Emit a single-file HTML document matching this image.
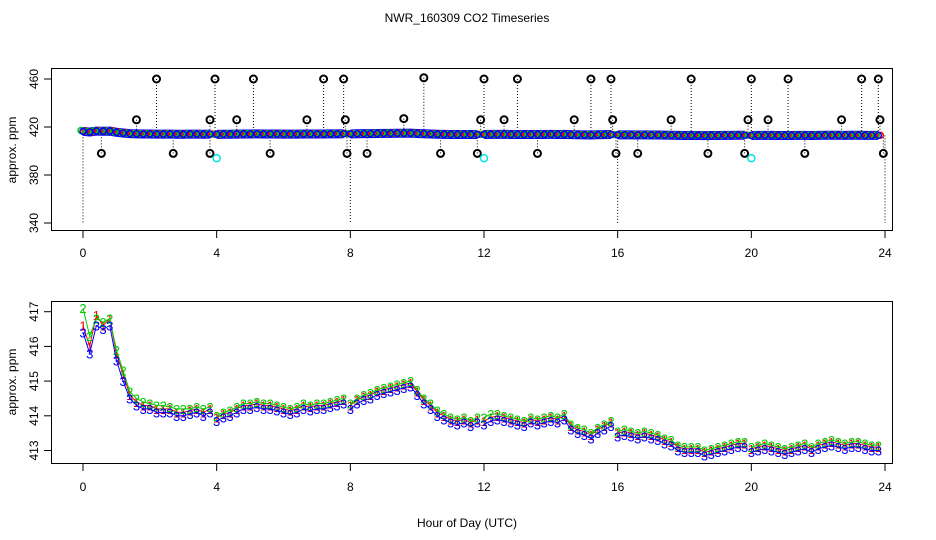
<!DOCTYPE html>
<html><head><meta charset="utf-8"><style>
body{margin:0;background:#fff;}
svg{display:block;font-family:"Liberation Sans",sans-serif;}
</style></head><body>
<svg id="c" width="936" height="540" viewBox="0 0 936 540" xmlns="http://www.w3.org/2000/svg">
<text x="467" y="22" font-size="12" text-anchor="middle">NWR_160309  CO2 Timeseries</text>
<text x="467" y="527" font-size="12" text-anchor="middle">Hour of Day (UTC)</text>
<rect x="51.5" y="68.5" width="841" height="162" fill="none" stroke="#000"/>
<rect x="51.5" y="301.5" width="841" height="162" fill="none" stroke="#000"/>
<text transform="translate(16,150) rotate(-90)" font-size="12" text-anchor="middle">approx. ppm</text>
<text transform="translate(16,382) rotate(-90)" font-size="12" text-anchor="middle">approx. ppm</text>
<g id="g"></g>
</svg>
<script>
const hourTicks=[0,4,8,12,16,20,24];
const topYTicks=[340,380,420,460];
const botYTicks=[413,414,415,416,417];
const hours=[0,0.2,0.4,0.6,0.8,1,1.2,1.4,1.6,1.8,2,2.2,2.4,2.6,2.8,3,3.2,3.4,3.6,3.8,4,4.2,4.4,4.6,4.8,5,5.2,5.4,5.6,5.8,6,6.2,6.4,6.6,6.8,7,7.2,7.4,7.6,7.8,8,8.2,8.4,8.6,8.8,9,9.2,9.4,9.6,9.8,10,10.2,10.4,10.6,10.8,11,11.2,11.4,11.6,11.8,12,12.2,12.4,12.6,12.8,13,13.2,13.4,13.6,13.8,14,14.2,14.4,14.6,14.8,15,15.2,15.4,15.6,15.8,16,16.2,16.4,16.6,16.8,17,17.2,17.4,17.6,17.8,18,18.2,18.4,18.6,18.8,19,19.2,19.4,19.6,19.8,20,20.2,20.4,20.6,20.8,21,21.2,21.4,21.6,21.8,22,22.2,22.4,22.6,22.8,23,23.2,23.4,23.6,23.8];
const blue=[416.4,415.8,416.6,416.5,416.6,415.6,415.0,414.5,414.3,414.2,414.2,414.1,414.1,414.1,414.0,414.0,414.05,414.1,414.0,414.1,
413.85,413.95,414.0,414.1,414.2,414.2,414.25,414.2,414.2,414.15,414.1,414.05,414.1,414.2,414.15,414.2,414.2,414.25,414.3,414.35,
414.2,414.35,414.45,414.5,414.6,414.65,414.7,414.75,414.8,414.85,414.6,414.35,414.2,414.0,413.9,413.8,413.75,413.8,413.7,413.8,
413.75,413.85,413.9,413.85,413.8,413.75,413.7,413.8,413.75,413.8,413.85,413.8,413.9,413.6,413.5,413.45,413.35,413.5,413.6,413.7,
413.4,413.45,413.4,413.35,413.4,413.35,413.3,413.2,413.15,413.0,412.95,412.95,412.95,412.85,412.9,412.95,413.0,413.05,413.1,413.1,
412.95,413.0,413.05,413.0,412.95,412.9,412.95,413.0,413.05,412.95,413.05,413.1,413.15,413.1,413.05,413.1,413.1,413.05,413.0,413.0];
const red=[416.6,416.0,416.9,416.6,416.8,415.8,415.2,414.6,414.4,414.3,414.3,414.2,414.2,414.2,414.1,414.1,414.15,414.2,414.1,414.2,
413.95,414.05,414.1,414.2,414.3,414.3,414.35,414.3,414.3,414.25,414.2,414.15,414.2,414.3,414.25,414.3,414.3,414.35,414.4,414.45,
414.3,414.45,414.55,414.6,414.7,414.75,414.8,414.85,414.9,414.95,414.7,414.45,414.3,414.1,414.0,413.9,413.85,413.9,413.8,413.9,
413.85,413.95,414.0,413.95,413.9,413.85,413.8,413.9,413.85,413.9,413.95,413.9,414.0,413.7,413.6,413.55,413.45,413.6,413.7,413.8,
413.5,413.55,413.5,413.45,413.5,413.45,413.4,413.3,413.25,413.1,413.05,413.05,413.05,412.95,413.0,413.05,413.1,413.15,413.2,413.2,
413.05,413.1,413.15,413.1,413.05,413.0,413.05,413.1,413.15,413.05,413.15,413.2,413.25,413.2,413.15,413.2,413.2,413.15,413.1,413.1];
const green=[417.1,416.3,416.8,416.7,416.8,415.9,415.3,414.7,414.5,414.4,414.35,414.3,414.3,414.25,414.2,414.2,414.2,414.25,414.2,414.25,
414.0,414.1,414.15,414.25,414.35,414.35,414.4,414.35,414.35,414.3,414.25,414.2,414.25,414.35,414.3,414.35,414.35,414.4,414.45,414.5,
414.35,414.5,414.6,414.65,414.75,414.8,414.85,414.9,414.95,415.0,414.75,414.5,414.35,414.15,414.05,413.95,413.9,413.95,413.85,413.95,
413.95,414.05,414.05,414.0,413.95,413.9,413.85,413.95,413.9,413.95,414.0,413.95,414.05,413.75,413.65,413.6,413.5,413.65,413.75,413.85,
413.55,413.6,413.55,413.5,413.55,413.5,413.45,413.35,413.3,413.15,413.1,413.1,413.1,413.0,413.05,413.1,413.15,413.2,413.25,413.25,
413.1,413.15,413.2,413.15,413.1,413.05,413.1,413.15,413.2,413.1,413.2,413.25,413.3,413.25,413.2,413.25,413.25,413.2,413.15,413.15];
const outHours=[2.2,1.6,0.55,2.7,3.8,3.8,3.95,4.6,5.1,5.6,6.7,7.2,7.8,7.85,7.9,8.5,9.6,10.2,10.7,11.8,11.9,12.0,12.6,13.0,13.6,14.7,15.2,15.8,15.85,15.95,16.6,17.6,18.2,18.7,19.8,19.9,20.0,20.5,21.1,21.6,22.7,23.3,23.8,23.85,23.95];
const outVals=[460,426,398,398,426,398,460,426,460,398,426,460,460,426,398,398,427,461,398,398,426,460,426,460,398,426,460,460,426,398,398,426,460,398,398,426,460,426,460,398,426,460,460,426,398];
const cyanHours=[4.0,12.0,20.0];
const cyanVals=[394,394,394];
const dropHours=[0,8,16,24];

const NS="http://www.w3.org/2000/svg";
const G=document.getElementById('g');
const X=h=>83+h*(885-83)/24;
const YT=v=>223-(v-340)*1.2;
const YB=v=>450.5-(v-413)*34.7;
function el(t,a){const e=document.createElementNS(NS,t);for(const k in a)e.setAttribute(k,a[k]);G.appendChild(e);return e;}
hourTicks.forEach(h=>{
 [[231,253],[464,487]].forEach(([yb,yl])=>{
  const t=el('line',{x1:X(h),x2:X(h),y1:yb,y2:yb+7,stroke:'#000'});
  
  
  const l=el('text',{x:X(h),y:yl+4,'font-size':12,'text-anchor':'middle'});l.textContent=h;
  
  
 });
});
topYTicks.forEach(v=>{
 const t=el('line',{x1:44,x2:51,y1:YT(v),y2:YT(v),stroke:'#000'});
 
 
 const l=el('text',{transform:`translate(38,${YT(v)}) rotate(-90)`,'font-size':12,'text-anchor':'middle'});l.textContent=v;
 
 
});
botYTicks.forEach(v=>{
 const t=el('line',{x1:44,x2:51,y1:YB(v),y2:YB(v),stroke:'#000'});
 
 
 const l=el('text',{transform:`translate(38,${YB(v)}) rotate(-90)`,'font-size':12,'text-anchor':'middle'});l.textContent=v;
 
 
});
dropHours.forEach(h=>{
 const i=Math.min(hours.length-1,Math.round(h/0.2));
 const d=el('line',{x1:X(h),x2:X(h),y1:YT(blue[i]),y2:YT(340),stroke:'#000','stroke-dasharray':'1,2'});
 
 
});
outHours.forEach((h,i)=>{
 const d=el('line',{x1:X(h),x2:X(h),y1:YT(outVals[i]),y2:YT(414),stroke:'#000','stroke-dasharray':'1,2'});
 
 
});
function band(arr,col,w){
 let d='';hours.forEach((h,i)=>{const brk=i>0&&Math.abs(h%4)<1e-6;d+=(i===0||brk?'M':'L')+X(h)+','+YT(arr[i]);});
 const p=el('path',{d,fill:'none',stroke:col,'stroke-width':w,'stroke-linejoin':'round'});
 
 
}
band(blue,'#0000ff',9);
[[red,'#ff0000'],[green,'#00cc00'],[blue,'#0000ff']].forEach(([arr,col])=>{
 hours.forEach((h,i)=>{
  const c=el('circle',{cx:X(h)+(col=='#ff0000'?2:col=='#00cc00'?-2:0),cy:YT(arr[i]),r:3,fill:'none',stroke:col,'stroke-width':1.5});
  
  
 });
});
outHours.forEach((h,i)=>{
 const c=el('circle',{cx:X(h),cy:YT(outVals[i]),r:3.5,fill:'none',stroke:'#000','stroke-width':2});
 
 
});
cyanHours.forEach((h,i)=>{
 const c=el('circle',{cx:X(h),cy:YT(cyanVals[i]),r:3.5,fill:'none',stroke:'#00e5e5','stroke-width':1.5});
 
 
});
[[red,'#ff0000','1'],[green,'#00cc00','2'],[blue,'#0000ff','3']].forEach(([arr,col,ch])=>{
 let d='';hours.forEach((h,i)=>{const brk=i>0&&Math.abs(h%4)<1e-6;d+=(i===0||brk?'M':'L')+X(h)+','+YB(arr[i]);});
 const p=el('path',{d,fill:'none',stroke:col,'stroke-width':1});
 
 
 hours.forEach((h,i)=>{
  const t=el('text',{x:X(h),y:YB(arr[i])+5,'font-size':13,'text-anchor':'middle',fill:col});t.textContent=ch;
  
  
 });
});
</script>
</body></html>
